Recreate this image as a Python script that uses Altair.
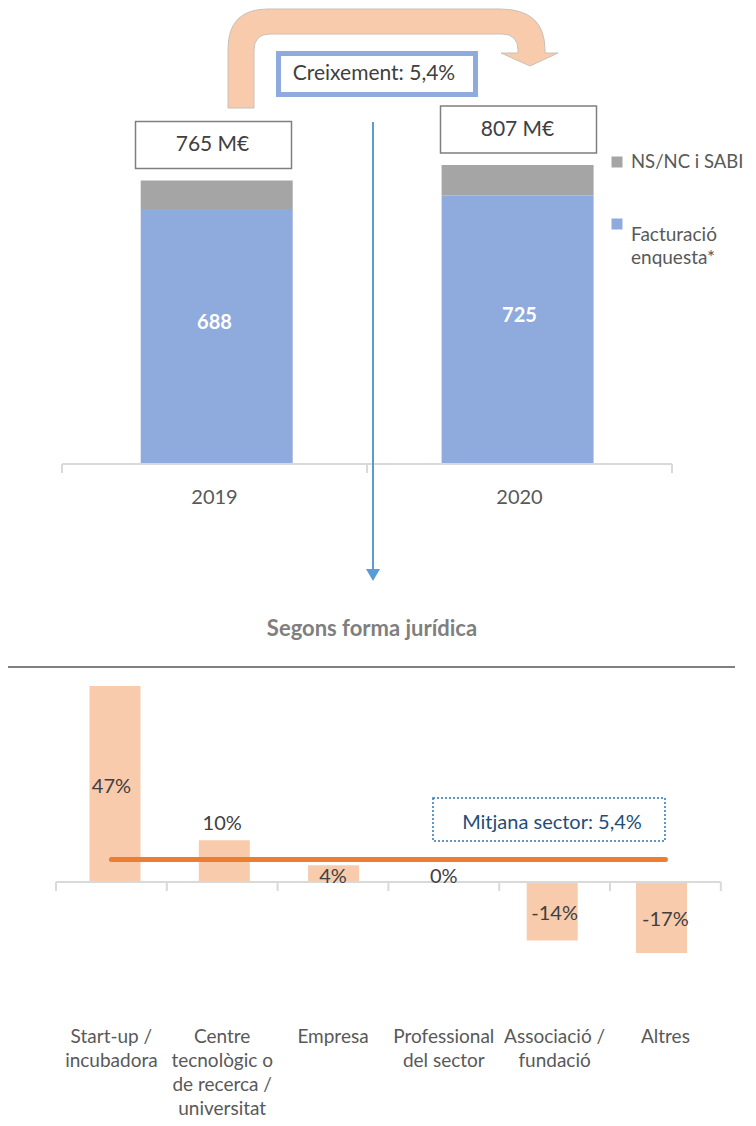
import altair as alt
import pandas as pd

# ---------------- data ----------------
years = ["2019", "2020"]
facturacio = [688, 725]          # Facturació enquesta* (M€)
totals = [765, 807]              # total (M€)
segments = ["Facturació enquesta*", "NS/NC i SABI"]
total_labels = ["765 M€", "807 M€"]

categories = ["Start-up /\nincubadora",
              "Centre\ntecnològic o\nde recerca /\nuniversitat",
              "Empresa",
              "Professional\ndel sector",
              "Associació /\nfundació",
              "Altres"]
growth = [47, 10, 4, 0, -14, -17]
growth_labels = ["47%", "10%", "4%", "0%", "-14%", "-17%"]
sector_mean = 5.4
growth_text = "Creixement: 5,4%"
mean_text = "Mitjana sector: 5,4%"
title_text = "Segons forma jurídica"

# ---------------- layout / scales ----------------
W, H = 740, 1110
FONT = "Lato"
TXT = "#404040"
TXT2 = "#595959"
AXC = "#D9D9D9"

TOP_PX, TOP_K, TOP_ZERO = 305.0, 0.3705, 456.0
tx0 = -0.5 - 54 / TOP_PX
X_TOP = alt.Scale(domain=[tx0, tx0 + W / TOP_PX], nice=False, zero=False)
ty1 = TOP_ZERO / TOP_K
Y_TOP = alt.Scale(domain=[ty1 - H / TOP_K, ty1], nice=False, zero=False)

BOT_PX, BOT_K, BOT_ZERO = 110.8, 4.17, 874.0
bx0 = -0.5 - 48 / BOT_PX
X_BOT = alt.Scale(domain=[bx0, bx0 + W / BOT_PX], nice=False, zero=False)
by1 = BOT_ZERO / BOT_K
Y_BOT = alt.Scale(domain=[by1 - H / BOT_K, by1], nice=False, zero=False)

one = pd.DataFrame({"a": [0]})

def xt(f, scale):
    return alt.X(f, scale=scale, axis=None)

def yt(f, scale):
    return alt.Y(f, scale=scale, axis=None)

layers = []

# ---------------- curved arrow (decoration) ----------------
pts = [("M", 228, 108), ("L", 228, 49), ("Q", 228, 9, 268, 9), ("L", 500, 9),
       ("Q", 545, 9, 545, 50), ("L", 545, 53), ("L", 558, 53), ("L", 530, 66),
       ("L", 501, 53), ("L", 518, 53), ("L", 518, 50), ("Q", 518, 34, 502, 34),
       ("L", 270, 34), ("Q", 254, 34, 254, 50), ("L", 254, 108)]
parts = []
for p in pts:
    cmd, nums = p[0], p[1:]
    parts.append(cmd + " " + " ".join(str(n - 8) for n in nums))
arrow_path = " ".join(parts) + " Z"
layers.append(alt.Chart(one).mark_point(shape=arrow_path, size=4, filled=True, fill="#F8CBAD",
                                         stroke="#C9C0B8", strokeWidth=1, opacity=1)
              .encode(x=alt.value(0), y=alt.value(0)))

# Creixement box
layers.append(alt.Chart(one).mark_rect(fill="white", stroke="#8FAADC", strokeWidth=5)
              .encode(x=alt.value(270.5), x2=alt.value(467.5), y=alt.value(45.5), y2=alt.value(86.5)))
layers.append(alt.Chart(one).mark_text(text=growth_text, font=FONT, fontSize=21, color=TXT,
                                        align="center", baseline="middle")
              .encode(x=alt.value(366), y=alt.value(66)))

# ---------------- top stacked bars ----------------
rows = []
for i, y in enumerate(years):
    rows.append({"idx": i, "seg": segments[0], "y0": 0, "y1": facturacio[i]})
    rows.append({"idx": i, "seg": segments[1], "y0": facturacio[i], "y1": totals[i]})
top_df = pd.DataFrame(rows)
layers.append(alt.Chart(top_df).mark_bar(size=152).encode(
    x=xt("idx:Q", X_TOP), y=yt("y0:Q", Y_TOP), y2="y1:Q",
    color=alt.Color("seg:N", scale=alt.Scale(domain=segments, range=["#8FAADC", "#A5A5A5"]), legend=None)))

yr_df = pd.DataFrame({"idx": list(range(len(years))), "year": years, "fact": facturacio,
                      "total": totals, "tl": total_labels})
yr_df["mid"] = yr_df["fact"] / 2
yr_df["zero"] = 0
yr_df["bx0"] = yr_df["idx"] - 79 / TOP_PX
yr_df["bx1"] = yr_df["idx"] + 77 / TOP_PX
yr_df["by0"] = yr_df["total"] + 12 / TOP_K
yr_df["by1"] = yr_df["total"] + 59 / TOP_K
yr_df["bym"] = yr_df["total"] + 35.5 / TOP_K
yr_df["flab"] = yr_df["fact"].astype(str)

layers.append(alt.Chart(yr_df).mark_text(font=FONT, fontSize=20, fontWeight="bold", color="white",
                                          baseline="middle", dy=-14)
              .encode(x=xt("idx:Q", X_TOP), y=yt("mid:Q", Y_TOP), text="flab:N"))
layers.append(alt.Chart(yr_df).mark_rect(fill="white", stroke="#7F7F7F", strokeWidth=1.5)
              .encode(x=xt("bx0:Q", X_TOP), x2="bx1:Q", y=yt("by0:Q", Y_TOP), y2="by1:Q"))
layers.append(alt.Chart(yr_df).mark_text(font=FONT, fontSize=21, color=TXT, baseline="middle", dx=-2)
              .encode(x=xt("idx:Q", X_TOP), y=yt("bym:Q", Y_TOP), text="tl:N"))
layers.append(alt.Chart(yr_df).mark_text(font=FONT, fontSize=20, color=TXT2, baseline="alphabetic", dy=40)
              .encode(x=xt("idx:Q", X_TOP), y=yt("zero:Q", Y_TOP), text="year:N"))

# top axis
tax = pd.DataFrame({"x0": [-0.5], "x1": [len(years) - 0.5], "y": [0]})
layers.append(alt.Chart(tax).mark_rule(color=AXC, strokeWidth=2)
              .encode(x=xt("x0:Q", X_TOP), x2="x1:Q", y=yt("y:Q", Y_TOP)))
ttk = pd.DataFrame({"x": [i - 0.5 for i in range(len(years) + 1)]})
ttk["y0"] = 0
ttk["y1"] = -9 / TOP_K
layers.append(alt.Chart(ttk).mark_rule(color=AXC, strokeWidth=2)
              .encode(x=xt("x:Q", X_TOP), y=yt("y0:Q", Y_TOP), y2="y1:Q"))

# legend (manual)
layers.append(alt.Chart(one).mark_square(size=121, color="#A5A5A5", opacity=1)
              .encode(x=alt.value(609), y=alt.value(154)))
layers.append(alt.Chart(one).mark_square(size=121, color="#8FAADC", opacity=1)
              .encode(x=alt.value(609), y=alt.value(216)))
layers.append(alt.Chart(one).mark_text(text=segments[1], font=FONT, fontSize=18.5, color=TXT2,
                                        align="left", baseline="middle")
              .encode(x=alt.value(623), y=alt.value(154)))
layers.append(alt.Chart(one).mark_text(text=["Facturació", "enquesta*"], font=FONT, fontSize=19,
                                        color=TXT2, align="left", baseline="middle", lineHeight=23)
              .encode(x=alt.value(623), y=alt.value(227)))

# vertical blue arrow
layers.append(alt.Chart(one).mark_rule(color="#5B9BD5", strokeWidth=2)
              .encode(x=alt.value(365), y=alt.value(114), y2=alt.value(562)))
layers.append(alt.Chart(one).mark_point(shape="triangle-down", size=196, filled=True,
                                         color="#5B9BD5", opacity=1)
              .encode(x=alt.value(365), y=alt.value(567)))

# title
layers.append(alt.Chart(one).mark_text(text=title_text, font=FONT, fontSize=22, fontWeight="bold",
                                        color="#7F7F7F", baseline="middle")
              .encode(x=alt.value(364), y=alt.value(621)))
# separator line
layers.append(alt.Chart(one).mark_rule(color="#808080", strokeWidth=2)
              .encode(x=alt.value(0), x2=alt.value(727), y=alt.value(659)))

# ---------------- bottom bars ----------------
bot = pd.DataFrame({"idx": list(range(len(categories))), "cat": categories,
                    "v": growth, "lab": growth_labels})
bot["zero"] = 0
bot["mid"] = bot["v"] / 2
layers.append(alt.Chart(bot).mark_bar(size=51, color="#F8CBAD")
              .encode(x=xt("idx:Q", X_BOT), y=yt("zero:Q", Y_BOT), y2="v:Q"))

# axis
bax = pd.DataFrame({"x0": [-0.5], "x1": [len(categories) - 0.5], "y": [0]})
layers.append(alt.Chart(bax).mark_rule(color=AXC, strokeWidth=2)
              .encode(x=xt("x0:Q", X_BOT), x2="x1:Q", y=yt("y:Q", Y_BOT)))
btk = pd.DataFrame({"x": [i - 0.5 for i in range(len(categories) + 1)]})
btk["y0"] = 0
btk["y1"] = -9 / BOT_K
layers.append(alt.Chart(btk).mark_rule(color=AXC, strokeWidth=2)
              .encode(x=xt("x:Q", X_BOT), y=yt("y0:Q", Y_BOT), y2="y1:Q"))

# mean line
mdf = pd.DataFrame({"x0": [0], "x1": [len(categories) - 1], "y": [sector_mean]})
layers.append(alt.Chart(mdf).mark_rule(color="#ED7D31", strokeWidth=5, strokeCap="round")
              .encode(x=xt("x0:Q", X_BOT), x2="x1:Q", y=yt("y:Q", Y_BOT)))

# value labels
big = bot[(bot["v"] >= 20) | (bot["v"] <= -10)]
mid = bot[(bot["v"] >= 5) & (bot["v"] < 20)]
small = bot[(bot["v"] > -10) & (bot["v"] < 5)]
layers.append(alt.Chart(big).mark_text(font=FONT, fontSize=20, color=TXT, baseline="middle", dy=3)
              .encode(x=xt("idx:Q", X_BOT), y=yt("mid:Q", Y_BOT), text="lab:N"))
layers.append(alt.Chart(mid).mark_text(font=FONT, fontSize=20, color=TXT, baseline="bottom", dy=-6)
              .encode(x=xt("idx:Q", X_BOT), y=yt("v:Q", Y_BOT), text="lab:N"))
layers.append(alt.Chart(small).mark_text(font=FONT, fontSize=20, color=TXT, baseline="alphabetic", dy=1)
              .encode(x=xt("idx:Q", X_BOT), y=yt("zero:Q", Y_BOT), text="lab:N"))

# category labels
layers.append(alt.Chart(bot).mark_text(font=FONT, fontSize=19, color=TXT2, baseline="top",
                                        lineBreak="\n", lineHeight=24, dy=146)
              .encode(x=xt("idx:Q", X_BOT), y=yt("zero:Q", Y_BOT), text="cat:N"))

# mean annotation box
layers.append(alt.Chart(one).mark_rect(fill="white", stroke="#2E75B6", strokeWidth=1.5,
                                        strokeDash=[2, 2])
              .encode(x=alt.value(425), x2=alt.value(657), y=alt.value(790), y2=alt.value(833)))
layers.append(alt.Chart(one).mark_text(text=mean_text, font=FONT, fontSize=20, color="#1F4E79",
                                        baseline="middle")
              .encode(x=alt.value(544), y=alt.value(815)))

chart = (alt.layer(*layers)
         .resolve_scale(x="independent", y="independent", color="independent")
         .properties(width=W, height=H, autosize=alt.AutoSizeParams(type="none"), padding=0)
         .configure_view(stroke=None))

chart.save("out.html", embed_options={"renderer": "svg", "actions": False})
